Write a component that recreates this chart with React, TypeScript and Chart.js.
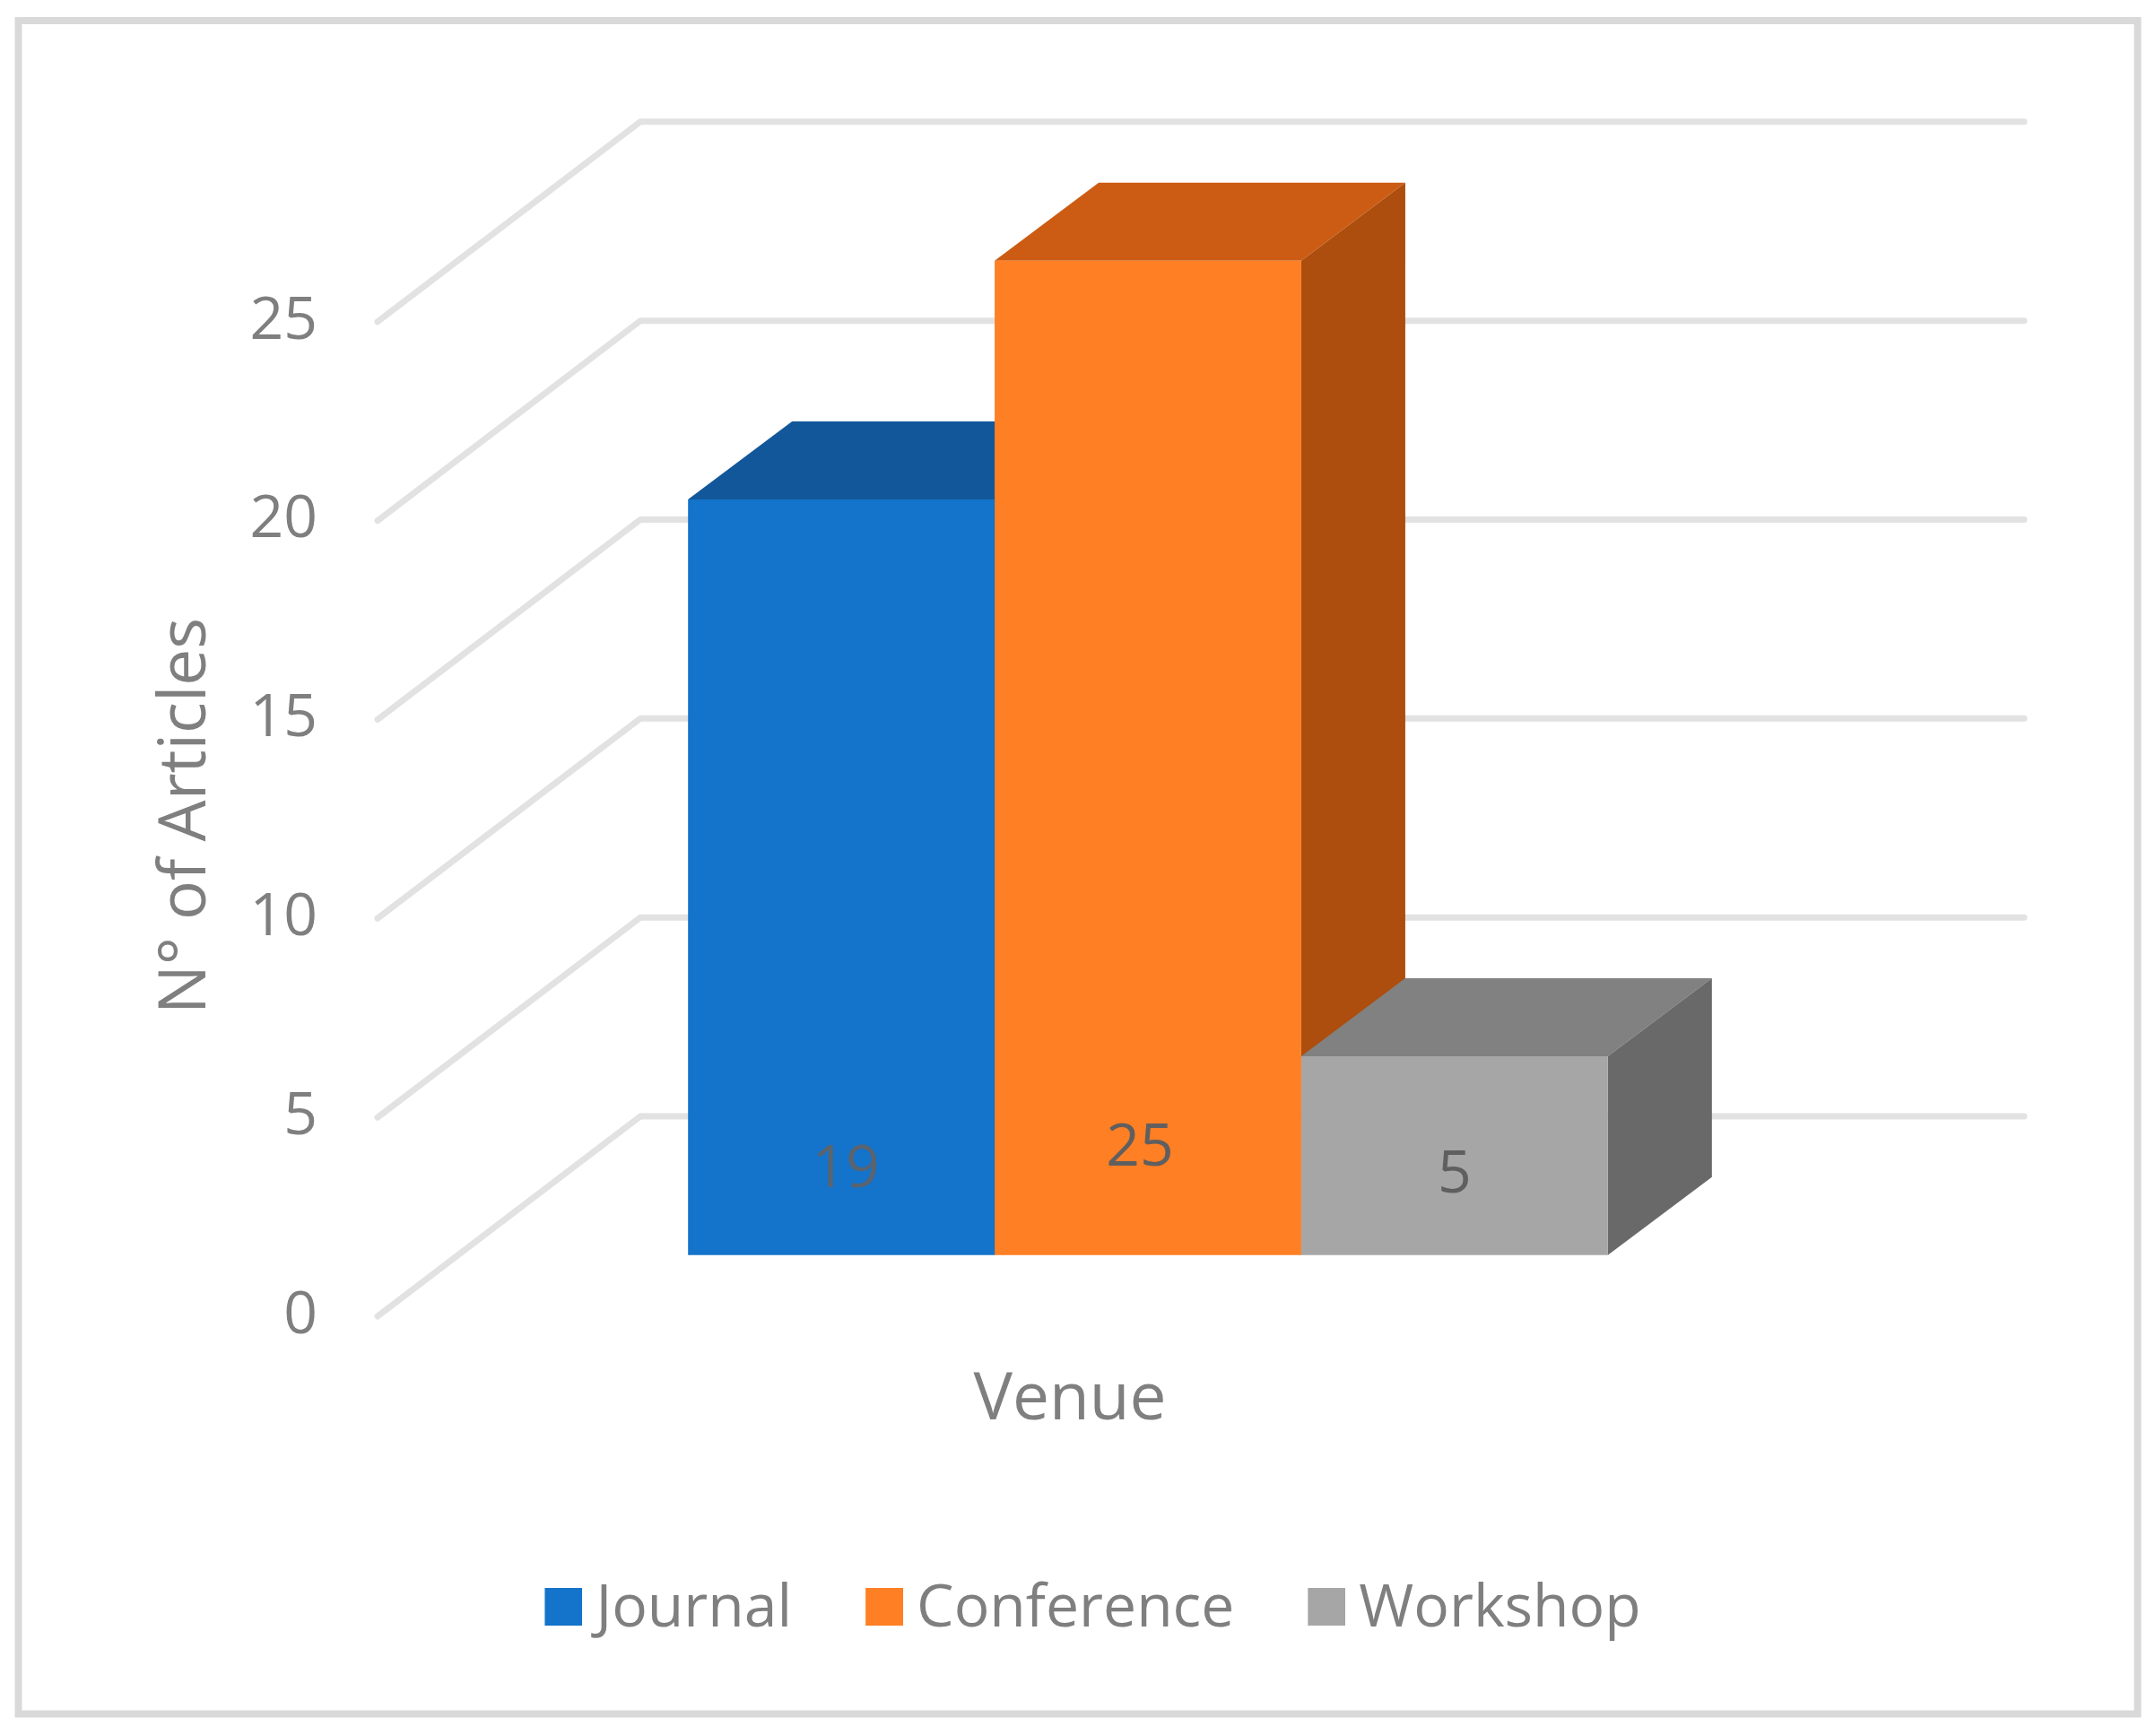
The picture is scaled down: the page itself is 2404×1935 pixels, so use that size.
import React, { useEffect, useRef } from "react";
import { Chart, registerables } from "chart.js";

Chart.register(...registerables);

const categories = ["Venue"];
const seriesNames = ["Journal", "Conference", "Workshop"];
const journalValues = [19];
const conferenceValues = [25];
const workshopValues = [5];
const yTickLabels = [0, 5, 10, 15, 20, 25];
const yAxisTitle = "N° of Articles";

const frontColors = ["#1473CA", "#FF7F24", "#A6A6A6"];
const topColors = ["#12579A", "#CC5C14", "#818181"];
const sideColors = ["#0F4E8E", "#AD4E0E", "#696969"];
const labelColors = ["#5A6470", "#5F5F5F", "#5F5F5F"];

const FONT = '"Open Sans", sans-serif';
const GREY = "#7F7F7F";

const wall = { dx: 293, dy: 223, right: 2257, color: "#E2E2E2", width: 7 };
const barDepth = { dx: 116, dy: 87 };
const labelNudge = [
  { x: 5, y: -95 },
  { x: -9, y: -119 },
  { x: 0, y: -89 },
];

const makeSwatch = (color: string) => {
  const c = document.createElement("canvas");
  c.width = 60;
  c.height = 48;
  const g = c.getContext("2d")!;
  g.fillStyle = color;
  g.fillRect(18, 0, 42, 42);
  return c;
};

const scene3d = {
  id: "scene3d",
  afterLayout(chart: any) {
    chart.legend.left += 149;
    chart.legend.right += 149;
  },
  beforeDraw(chart: any) {
    const { ctx, width, height } = chart;
    ctx.save();
    ctx.fillStyle = "#FFFFFF";
    ctx.fillRect(0, 0, width, height);
    ctx.strokeStyle = "#D9D9D9";
    ctx.lineWidth = 8;
    ctx.strokeRect(20.5, 23, 2363, 1888.5);
    ctx.restore();
  },
  beforeDatasetsDraw(chart: any) {
    const { ctx, chartArea } = chart;
    const y = chart.scales.y;
    ctx.save();
    ctx.strokeStyle = wall.color;
    ctx.lineWidth = wall.width;
    ctx.lineCap = "round";
    ctx.lineJoin = "round";
    yTickLabels.forEach((v) => {
      const py = y.getPixelForValue(v);
      ctx.beginPath();
      ctx.moveTo(chartArea.left, py);
      ctx.lineTo(chartArea.left + wall.dx, py - wall.dy);
      ctx.lineTo(wall.right, py - wall.dy);
      ctx.stroke();
    });
    chart.data.datasets.forEach((_: any, i: number) => {
      const bar = chart.getDatasetMeta(i).data[0];
      const l = bar.x - bar.width / 2;
      const r = bar.x + bar.width / 2;
      const { dx, dy } = barDepth;
      ctx.fillStyle = topColors[i];
      ctx.beginPath();
      ctx.moveTo(l, bar.y);
      ctx.lineTo(l + dx, bar.y - dy);
      ctx.lineTo(r + dx, bar.y - dy);
      ctx.lineTo(r, bar.y);
      ctx.closePath();
      ctx.fill();
      ctx.fillStyle = sideColors[i];
      ctx.beginPath();
      ctx.moveTo(r, bar.y);
      ctx.lineTo(r + dx, bar.y - dy);
      ctx.lineTo(r + dx, bar.base - dy);
      ctx.lineTo(r, bar.base);
      ctx.closePath();
      ctx.fill();
    });
    ctx.restore();
  },
  afterDatasetsDraw(chart: any) {
    const { ctx } = chart;
    ctx.save();
    ctx.font = `66px ${FONT}`;
    ctx.textAlign = "center";
    ctx.textBaseline = "middle";
    chart.data.datasets.forEach((ds: any, i: number) => {
      const bar = chart.getDatasetMeta(i).data[0];
      ctx.fillStyle = labelColors[i];
      ctx.fillText(String(ds.data[0]), bar.x + labelNudge[i].x, bar.base + labelNudge[i].y);
    });
    ctx.restore();
  },
  afterDraw(chart: any) {
    const { ctx } = chart;
    ctx.save();
    ctx.translate(208, 910);
    ctx.rotate(-Math.PI / 2);
    ctx.font = `73px ${FONT}`;
    ctx.fillStyle = GREY;
    ctx.textAlign = "center";
    ctx.textBaseline = "middle";
    ctx.fillText(yAxisTitle, 0, 0);
    ctx.restore();
  },
};

export default function App() {
  const ref = useRef<HTMLCanvasElement>(null);
  useEffect(() => {
    const seriesValues = [journalValues, conferenceValues, workshopValues];
    const swatches = frontColors.map(makeSwatch);
    const chart = new Chart(ref.current!, {
      type: "bar",
      data: {
        labels: categories,
        datasets: seriesNames.map((name, i) => ({
          label: name,
          data: seriesValues[i],
          backgroundColor: frontColors[i],
          yAxisID: "yBar",
          barPercentage: 1,
          categoryPercentage: 0.597,
        })),
      },
      options: {
        responsive: false,
        animation: false,
        events: [],
        layout: { padding: { top: 137, right: 265, bottom: 97, left: 0 } },
        plugins: {
          tooltip: { enabled: false },
          title: { display: false },
          legend: {
            position: "bottom",
            labels: {
              color: GREY,
              font: { family: FONT, size: 66 },
              usePointStyle: true,
              boxWidth: 24,
              padding: 82,
              generateLabels: (chart: any) =>
                chart.data.datasets.map((d: any, i: number) => ({
                  text: d.label,
                  fontColor: GREY,
                  fillStyle: frontColors[i],
                  strokeStyle: frontColors[i],
                  lineWidth: 0,
                  pointStyle: swatches[i],
                  datasetIndex: i,
                  hidden: false,
                })),
            },
          },
        },
        scales: {
          x: {
            grid: { display: false },
            border: { display: false },
            ticks: {
              color: GREY,
              font: { family: FONT, size: 73 },
              padding: 42,
              labelOffset: -87,
            },
            afterFit: (s: any) => {
              s.height = 212;
            },
          },
          y: {
            min: 0,
            max: 30,
            grid: { display: false },
            border: { display: false },
            ticks: {
              stepSize: 5,
              color: GREY,
              font: { family: FONT, size: 66 },
              padding: 59,
              callback: (v: any) => (yTickLabels.includes(v) ? String(v) : ""),
            },
            afterFit: (s: any) => {
              s.width = 421;
            },
          },
          yBar: {
            display: false,
            min: -1.536,
            max: 28.464,
          },
        },
      },
      plugins: [scene3d],
    } as any);
    return () => chart.destroy();
  }, []);
  return (
    <div style={{ position: "absolute", left: 0, top: 0, width: 2404, height: 1935 }}>
      <canvas ref={ref} width={2404} height={1935} style={{ display: "block" }} />
    </div>
  );
}
